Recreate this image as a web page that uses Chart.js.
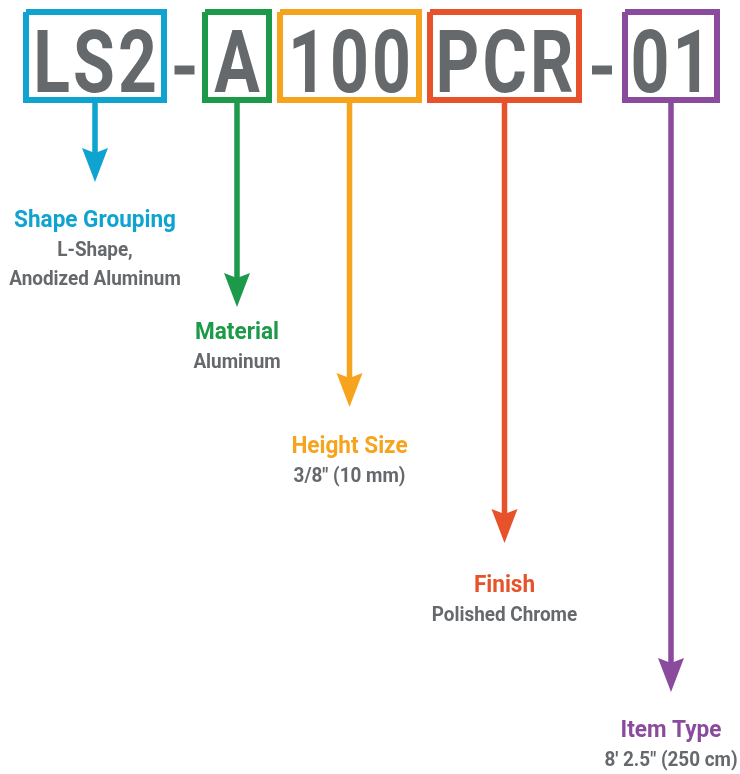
<!DOCTYPE html>
<html>
<head>
<meta charset="utf-8">
<script src="https://cdn.jsdelivr.net/npm/chart.js@4.4.1/dist/chart.umd.min.js"></script>
<style>
  html, body { margin: 0; padding: 0; background: #fff; }
  #wrap { width: 740px; height: 774px; }
</style>
</head>
<body>
<div id="wrap"><canvas id="chart" width="740" height="774"></canvas></div>
<script>
// part number segments
const codes = ['LS2', 'A', '100', 'PCR', '01'];
const separators = ['', '-', '', '', '-'];
const titles = ['Shape Grouping', 'Material', 'Height Size', 'Finish', 'Item Type'];
const details = [
    ['L-Shape,', 'Anodized Aluminum'],
    ['Aluminum'],
    ['3/8" (10 mm)'],
    ['Polished Chrome'],
    ['8\' 2.5" (250 cm)']
];
const boxStart = [23, 202, 277, 427, 622];
const boxEnd = [167, 272, 422, 582, 720];
const arrowEnd = [182, 307, 407, 543, 692];

const colors = ['#0fa4d0', '#1d9a49', '#f6a31d', '#e8522a', '#8a4b9c'];
const grey = '#65696c';

// layout (pixels)
const BOX_TOP = 9;
const BOX_BOTTOM = 103;
const BORDER = 6;
const CODE_BASELINE = 92;
const DASH_Y = 70;
const DASH_W = 20;
const HEAD_W = 26;
const HEAD_L = 34;
const HEAD_NOTCH = 5;
const titleBaseline = [227, 339, 453, 592, 737];
const LINE_GAP = 29;

const centers = boxStart.map((s, i) => (s + boxEnd[i]) / 2);

const datasets = [];
codes.forEach((code, i) => {
    const l = boxStart[i] + BORDER / 2;
    const r = boxEnd[i] - BORDER / 2;
    const t = BOX_TOP + BORDER / 2;
    const b = BOX_BOTTOM - BORDER / 2;
    datasets.push({
        label: code,
        data: [{x: l, y: t}, {x: r, y: t}, {x: r, y: b}, {x: l, y: b}, {x: l, y: t}],
        showLine: true,
        borderColor: colors[i],
        borderWidth: BORDER,
        borderJoinStyle: 'miter',
        pointRadius: 0,
        fill: false
    });
    datasets.push({
        label: titles[i],
        data: [{x: centers[i], y: BOX_BOTTOM}, {x: centers[i], y: arrowEnd[i] - HEAD_L + HEAD_NOTCH + 2}],
        showLine: true,
        borderColor: colors[i],
        borderWidth: 5.5,
        borderCapStyle: 'butt',
        pointRadius: 0,
        fill: false
    });
    if (separators[i]) {
        const mid = (boxEnd[i - 1] + boxStart[i]) / 2;
        datasets.push({
            label: 'sep' + i,
            data: [{x: mid - DASH_W / 2, y: DASH_Y}, {x: mid + DASH_W / 2, y: DASH_Y}],
            showLine: true,
            borderColor: grey,
            borderWidth: 9,
            borderCapStyle: 'butt',
            pointRadius: 0,
            fill: false
        });
    }
});

const drawText = (ctx, text, x, y, font, color, squeeze, spacing) => {
    ctx.save();
    ctx.font = font;
    ctx.letterSpacing = spacing + 'px';
    ctx.fillStyle = color;
    ctx.textAlign = 'left';
    ctx.textBaseline = 'alphabetic';
    const w = ctx.measureText(text).width - spacing;
    ctx.translate(x, y);
    ctx.scale(squeeze, 1);
    ctx.fillText(text, -w / 2, 0);
    ctx.restore();
};

const diagramPlugin = {
    id: 'diagram',
    afterDatasetsDraw(chart) {
        const ctx = chart.ctx;
        const xs = chart.scales.x;
        const ys = chart.scales.y;
        codes.forEach((code, i) => {
            const cx = xs.getPixelForValue(centers[i]);
            // arrow head
            const tip = ys.getPixelForValue(arrowEnd[i]);
            ctx.save();
            ctx.fillStyle = colors[i];
            ctx.beginPath();
            ctx.moveTo(cx, tip);
            ctx.lineTo(cx - HEAD_W / 2, tip - HEAD_L);
            ctx.lineTo(cx, tip - HEAD_L + HEAD_NOTCH);
            ctx.lineTo(cx + HEAD_W / 2, tip - HEAD_L);
            ctx.closePath();
            ctx.fill();
            ctx.restore();

            drawText(ctx, code, cx, ys.getPixelForValue(CODE_BASELINE),
                'bold 87px Roboto', grey, 0.78, 4);

            const tb = ys.getPixelForValue(titleBaseline[i]);
            drawText(ctx, titles[i], cx, tb, 'bold 24px Roboto', colors[i], 0.94, 0);
            details[i].forEach((line, k) => {
                drawText(ctx, line, cx, tb + LINE_GAP * (k + 1), 'bold 21px Roboto', grey, 0.9, 0);
            });
        });
    }
};

new Chart(document.getElementById('chart').getContext('2d'), {
    type: 'scatter',
    data: { datasets },
    options: {
        responsive: false,
        animation: false,
        events: [],
        layout: { padding: 0 },
        scales: {
            x: { type: 'linear', min: 0, max: 740, display: false },
            y: { type: 'linear', min: 0, max: 774, reverse: true, display: false }
        },
        elements: { line: { tension: 0 } },
        datasets: { scatter: { clip: false } },
        plugins: {
            legend: { display: false },
            tooltip: { enabled: false }
        }
    },
    plugins: [diagramPlugin]
});
</script>
</body>
</html>
